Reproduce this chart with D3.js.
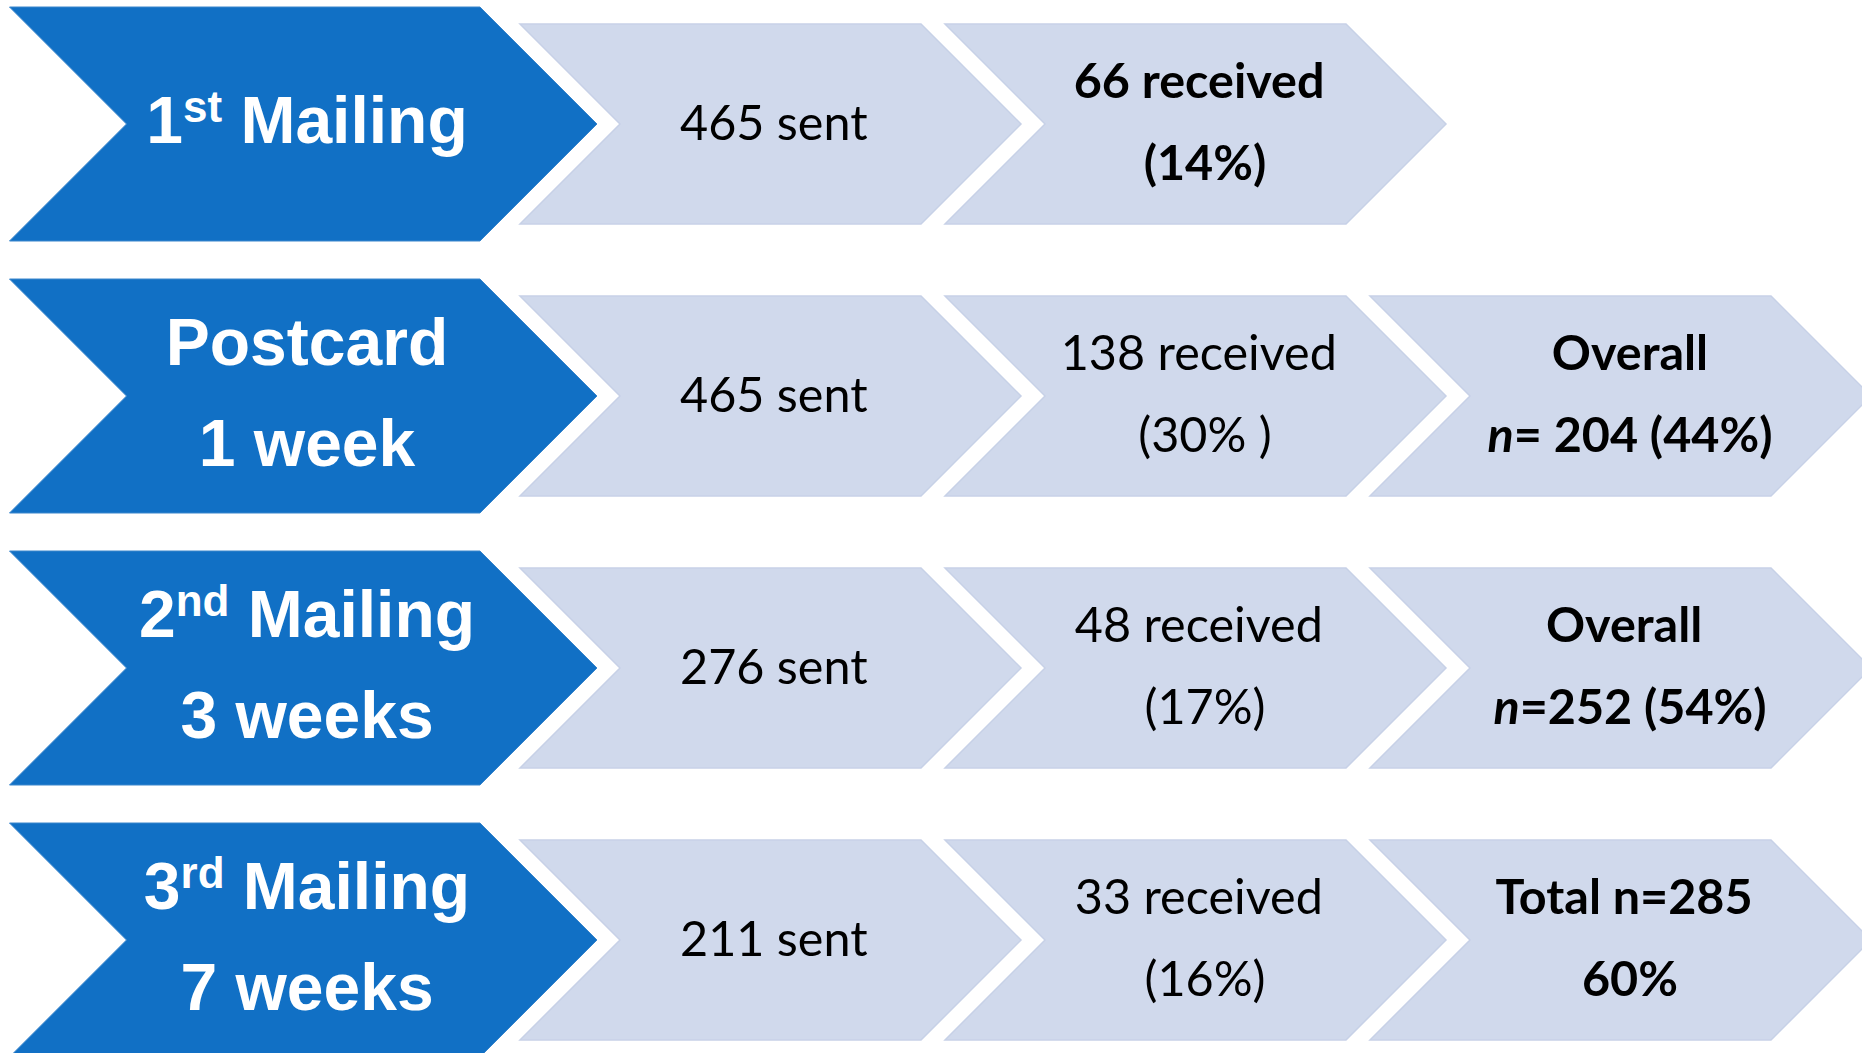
<!DOCTYPE html>
<html>
<head>
<meta charset="utf-8">
<script src="https://cdn.jsdelivr.net/npm/d3@7"></script>
<style>
  html, body { margin: 0; padding: 0; background: #fff; }
  svg { display: block; }
</style>
</head>
<body>
<svg id="chart"></svg>
<script>
// stages (left blue arrows)
const stageNumbers = ['1', '', '2', '3'];
const stageSuffixes = ['st', '', 'nd', 'rd'];
const stageNames = ['Mailing', 'Postcard', 'Mailing', 'Mailing'];
const stageTimings = ['', '1 week', '3 weeks', '7 weeks'];

// counts per stage
const sentCounts = [465, 465, 276, 211];
const receivedCounts = [66, 138, 48, 33];
const receivedLabels = ['(14%)', '(30% )', '(17%)', '(16%)'];

// running totals (none for the first mailing)
const overallTitles = [null, 'Overall', 'Overall', 'Total n=285'];
const overallValues = [null, 'n= 204 (44%)', 'n=252 (54%)', '60%'];

const width = 1862,
  height = 1053,
  blue = '#1170c5',
  pale = '#d0d9ec',
  paleEdge = '#c7d1e7',
  headFont = '"Liberation Sans", Arial, sans-serif',
  bodyFont = 'Lato, "Open Sans", sans-serif',
  bodySize = 48.5;

const svg = d3.select('#chart').attr('width', width).attr('height', height);

// row centres and step columns
const y = d3.scaleLinear().domain([0, 3]).range([124, 124 + 3 * 272]);
const x = d3.scaleLinear().domain([0, 2]).range([520, 1370]);

const chevron = (left, w, cy, h) => {
  const p = d3.path();
  p.moveTo(left, cy - h);
  p.lineTo(left + w - h, cy - h);
  p.lineTo(left + w, cy);
  p.lineTo(left + w - h, cy + h);
  p.lineTo(left, cy + h);
  p.lineTo(left + h, cy);
  p.closePath();
  return p.toString();
};

const rows = stageNames.map((name, i) => ({
  i,
  num: stageNumbers[i],
  sup: stageSuffixes[i],
  name,
  timing: stageTimings[i],
  steps: [
    { lines: [sentCounts[i] + ' sent\u00a0'], bold: false },
    { lines: [receivedCounts[i] + ' received\u00a0', receivedLabels[i]], bold: i === 0 },
    overallTitles[i] == null ? null
      : { lines: [overallTitles[i] + (i > 1 ? '\u00a0' : ''), overallValues[i]], bold: true }
  ].filter(s => s)
}));

const row = svg
  .selectAll('g.row')
  .data(rows)
  .join('g')
  .attr('class', 'row');

// blue stage arrow
row
  .append('path')
  .attr('d', d => chevron(9.5, 587.5, y(d.i), 117))
  .style('fill', blue)
  .style('stroke', '#3a86cc')
  .style('stroke-width', 1);

const headX = 307;

const head = row
  .append('text')
  .attr('x', headX)
  .style('fill', '#fff')
  .style('font-family', headFont)
  .style('font-weight', 'bold')
  .style('font-size', '66px')
  .style('text-anchor', 'middle');

head.each(function(d) {
  const t = d3.select(this);
  const twoLines = d.timing !== '';
  const first = t.append('tspan').attr('x', headX).attr('y', y(d.i) + (twoLines ? -31 : 19));
  if (d.num) {
    first.append('tspan').text(d.num);
    first
      .append('tspan')
      .attr('dy', -21)
      .style('font-size', '44px')
      .text(d.sup);
    first
      .append('tspan')
      .attr('dy', 21)
      .text(' ' + d.name);
  } else {
    first.text(d.name);
  }
  if (twoLines) {
    t.append('tspan')
      .attr('x', headX)
      .attr('y', y(d.i) + 70)
      .text(d.timing);
  }
});

// pale step arrows
const step = row
  .selectAll('g.step')
  .data(d => d.steps.map((s, j) => ({ ...s, j, cy: y(d.i) })))
  .join('g')
  .attr('class', 'step');

step
  .append('path')
  .attr('d', d => chevron(x(d.j), 501, d.cy, 100))
  .style('fill', pale)
  .style('stroke', paleEdge)
  .style('stroke-width', 1.5);

step.each(function(d) {
  const cx = x(d.j) + 260;
  const t = d3
    .select(this)
    .append('text')
    .style('fill', '#000')
    .style('font-family', bodyFont)
    .style('font-size', bodySize + 'px')
    .style('font-weight', d.bold ? 'bold' : 'normal')
    .style('text-anchor', 'middle');
  const ys = d.lines.length === 1 ? [16] : [-26, 56];
  d.lines.forEach((line, k) => {
    const ts = t
      .append('tspan')
      .attr('x', cx)
      .attr('y', d.cy + ys[k]);
    if (/^n=/.test(line)) {
      ts.append('tspan').style('font-style', 'italic').text('n');
      ts.append('tspan').text(line.slice(1));
    } else {
      ts.text(line);
    }
  });
});
</script>
</body>
</html>
